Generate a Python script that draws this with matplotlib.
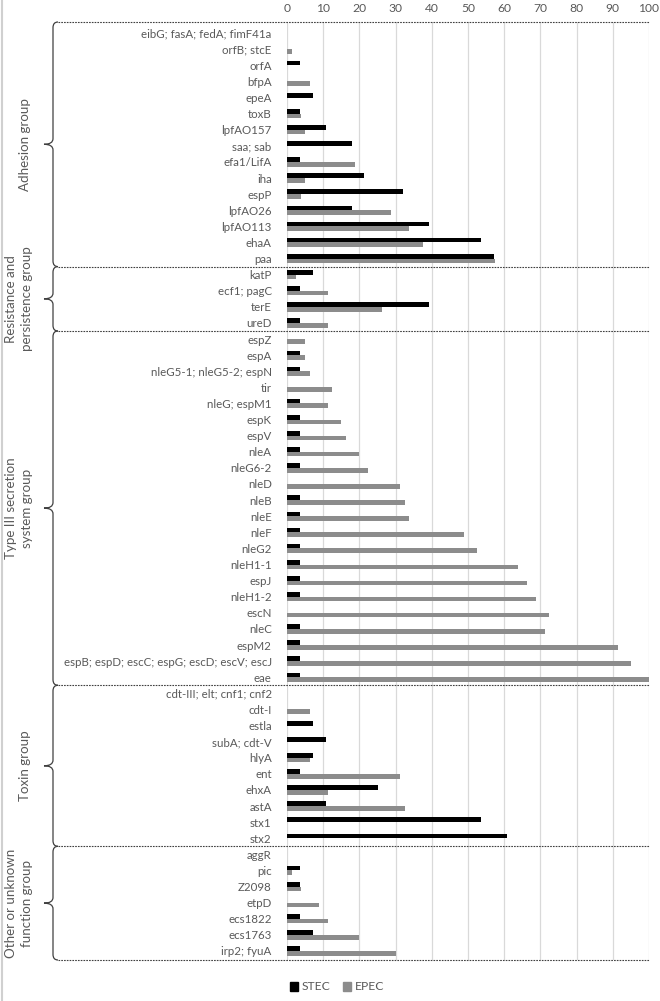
import matplotlib.pyplot as plt
import matplotlib.transforms as mtransforms
from matplotlib.path import Path
from matplotlib.patches import PathPatch, Patch
import numpy as np

plt.rcParams["font.family"] = ["Lato", "DejaVu Sans"]

# data (percent of isolates)
adhesion_genes = ["eibG; fasA; fedA; fimF41a", "orfB; stcE", "orfA", "bfpA", "epeA", "toxB",
                  "lpfAO157", "saa; sab", "efa1/LifA", "iha", "espP", "lpfAO26", "lpfAO113",
                  "ehaA", "paa"]
adhesion_stec = [0, 0, 3.6, 0, 7.1, 3.6, 10.7, 17.9, 3.6, 21.4, 32.1, 17.9, 39.3, 53.6, 57.1]
adhesion_epec = [0, 1.3, 0, 6.3, 0, 3.8, 5.0, 0, 18.8, 5.0, 3.8, 28.8, 33.8, 37.5, 57.5]

resist_genes = ["katP", "ecf1; pagC", "terE", "ureD"]
resist_stec = [7.1, 3.6, 39.3, 3.6]
resist_epec = [2.5, 11.3, 26.3, 11.3]

t3ss_genes = ["espZ", "espA", "nleG5-1; nleG5-2; espN", "tir", "nleG; espM1", "espK", "espV",
              "nleA", "nleG6-2", "nleD", "nleB", "nleE", "nleF", "nleG2", "nleH1-1", "espJ",
              "nleH1-2", "escN", "nleC", "espM2", "espB; espD; escC; espG; escD; escV; escJ", "eae"]
t3ss_stec = [0, 3.6, 3.6, 0, 3.6, 3.6, 3.6, 3.6, 3.6, 0, 3.6, 3.6, 3.6, 3.6, 3.6, 3.6,
             3.6, 0, 3.6, 3.6, 3.6, 3.6]
t3ss_epec = [5.0, 5.0, 6.3, 12.5, 11.3, 15.0, 16.3, 20.0, 22.5, 31.3, 32.5, 33.8, 48.8, 52.5,
             63.8, 66.3, 68.8, 72.5, 71.3, 91.3, 95.0, 100]

toxin_genes = ["cdt-III; elt; cnf1; cnf2", "cdt-I", "estla", "subA; cdt-V", "hlyA", "ent",
               "ehxA", "astA", "stx1", "stx2"]
toxin_stec = [0, 0, 7.1, 10.7, 7.1, 3.6, 25.0, 10.7, 53.6, 60.7]
toxin_epec = [0, 6.3, 0, 0, 6.3, 31.3, 11.3, 32.5, 0, 0]

other_genes = ["aggR", "pic", "Z2098", "etpD", "ecs1822", "ecs1763", "irp2; fyuA"]
other_stec = [0, 3.6, 3.6, 0, 3.6, 7.1, 3.6]
other_epec = [0, 1.3, 3.8, 8.8, 11.3, 20.0, 30.0]

group_names = ["Adhesion group", "Resistance and\npersistence group",
               "Type III secretion\nsystem group", "Toxin group",
               "Other or unknown\nfunction group"]

genes = adhesion_genes + resist_genes + t3ss_genes + toxin_genes + other_genes
stec = adhesion_stec + resist_stec + t3ss_stec + toxin_stec + other_stec
epec = adhesion_epec + resist_epec + t3ss_epec + toxin_epec + other_epec
group_sizes = [len(adhesion_genes), len(resist_genes), len(t3ss_genes),
               len(toxin_genes), len(other_genes)]

W, H = 660, 1001
fig = plt.figure(figsize=(W / 100, H / 100), dpi=100)
ax = fig.add_axes([287 / W, 1 - 960 / H, (649 - 287) / W, (960 - 22) / H])

txt = "#595959"
fs = 8.3
y = np.arange(len(genes))
h = 0.29
ax.barh(y - h / 2, stec, height=h, color="black", zorder=3)
ax.barh(y + h / 2, epec, height=h, color="#8C8C8C", zorder=3)

ax.set_xlim(0, 100)
ax.set_ylim(57.56, -0.69)
ax.set_xticks(range(0, 101, 10))
ax.set_yticks(y)
ax.set_yticklabels(genes)
ax.xaxis.tick_top()
ax.tick_params(axis="x", length=0, pad=6, labelsize=fs + 0.4, labelcolor=txt)
ax.tick_params(axis="y", length=0, pad=11, labelsize=fs, labelcolor=txt)
ax.grid(axis="x", color="#D9D9D9", lw=0.9, zorder=0)
for s in ax.spines.values():
    s.set_visible(False)

# group separators and braces
tr = mtransforms.blended_transform_factory(fig.transFigure, ax.transData)
bounds = [-0.69] + list(np.cumsum(group_sizes)[:-1] - 0.5) + [57.56]
for b in bounds:
    ax.plot([58 / W, 649 / W], [b, b], transform=tr, clip_on=False,
            color="#404040", lw=0.8, ls=(0, (1.5, 1)))

r = 0.35
xv, xt, xe = 53 / W, 44 / W, 58 / W
for i, name in enumerate(group_names):
    yt, yb = bounds[i], bounds[i + 1]
    ym = (yt + yb) / 2
    verts = [(xe, yt), (xv, yt), (xv, yt + r),
             (xv, ym - r), (xv, ym), (xt, ym),
             (xv, ym), (xv, ym + r),
             (xv, yb - r), (xv, yb), (xe, yb)]
    codes = [Path.MOVETO, Path.CURVE3, Path.CURVE3,
             Path.LINETO, Path.CURVE3, Path.CURVE3,
             Path.CURVE3, Path.CURVE3,
             Path.LINETO, Path.CURVE3, Path.CURVE3]
    ax.add_patch(PathPatch(Path(verts, codes), transform=tr, clip_on=False,
                           fill=False, edgecolor="#404040", lw=0.9))
    xl = 25 if "\n" not in name else 19
    ax.text(xl / W, ym, name, transform=tr, rotation=90, ha="center", va="center",
            fontsize=9.6, color=txt, linespacing=1.45)

# thin frame line on the left edge
fig.add_artist(plt.Line2D([1.5 / W, 1.5 / W], [0, 1], color="#D0D0D0", lw=1.5))

handles = [Patch(color="black", label="STEC"), Patch(color="#8C8C8C", label="EPEC")]
fig.legend(handles=handles, loc="center", bbox_to_anchor=(337 / W, 1 - 987 / H), ncol=2,
           frameon=False, fontsize=fs + 0.4, labelcolor=txt, handlelength=0.7,
           handleheight=0.7, handletextpad=0.3, columnspacing=1.0)

fig.savefig("out.png", dpi=100)
